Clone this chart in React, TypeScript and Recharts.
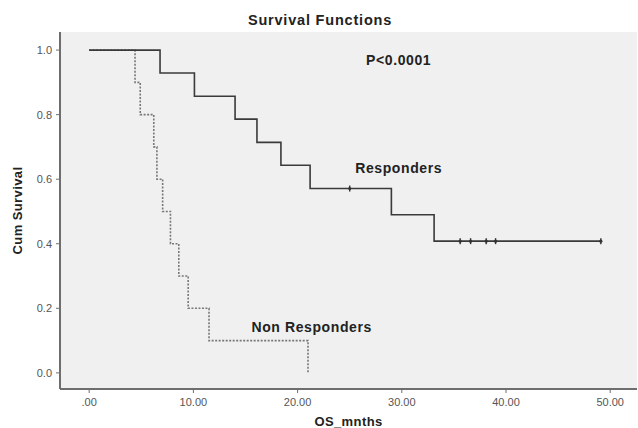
import { ComposedChart, Line, Scatter, XAxis, YAxis, CartesianGrid, ReferenceDot } from 'recharts';

// Kaplan-Meier estimates
const respTime = [0, 6.8, 10.1, 14.0, 16.1, 18.4, 21.2, 29.0, 33.1, 49.1];
const respSurv = [1, 0.929, 0.857, 0.786, 0.714, 0.643, 0.571, 0.49, 0.408, 0.408];
const respCensorTime = [25.0, 35.6, 36.6, 38.1, 39.0, 49.1];
const respCensorSurv = [0.571, 0.408, 0.408, 0.408, 0.408, 0.408];
const nonTime = [0, 4.4, 4.9, 6.2, 6.5, 7.05, 7.8, 8.6, 9.5, 11.5, 21.0];
const nonSurv = [1, 0.9, 0.8, 0.7, 0.6, 0.5, 0.4, 0.3, 0.2, 0.1, 0];

const xTicks = [0, 10, 20, 30, 40, 50];
const yTicks = [0, 0.2, 0.4, 0.6, 0.8, 1.0];

const respData = respTime.map((t, i) => ({ t, s: respSurv[i] }));
const nonData = nonTime.map((t, i) => ({ t, s: nonSurv[i] }));
const censorData = respCensorTime.map((t, i) => ({ t, s: respCensorSurv[i] }));

const xDomain = [-2.8, 52.57];
const yDomain = [-0.05, 1.056];
const font = '"Liberation Sans", Arial, sans-serif';
const axisColor = '#6e6e6e';

const CensorMark = (props: any) => {
  const { cx, cy } = props;
  return (
    <g>
      <line x1={cx} x2={cx} y1={cy - 3} y2={cy + 3} stroke="#333" strokeWidth={1.4} />
      <circle cx={cx} cy={cy} r={1.6} fill="#333" />
    </g>
  );
};

const annot = (value: string) => ({
  value,
  position: 'center' as const,
  fill: '#222',
  fontSize: 14,
  fontWeight: 'bold',
  fontFamily: font,
  letterSpacing: 0.6,
});

export default function App() {
  return (
    <div style={{ position: 'absolute', left: 0, top: 0, width: 638, height: 428, background: '#fff' }}>
      <ComposedChart width={638} height={428} margin={{ top: 32, right: 1, bottom: 0, left: 0 }} style={{ fontFamily: font }}>
        <CartesianGrid fill="#f0f0f0" horizontal={false} vertical={false} />
        <XAxis
          dataKey="t"
          type="number"
          domain={xDomain}
          ticks={xTicks}
          allowDataOverflow
          height={39}
          tickSize={4}
          tickMargin={5}
          tickFormatter={(v: number) => (v === 0 ? '.00' : v.toFixed(2))}
          tick={{ fill: '#555', fontSize: 11, fontFamily: font }}
          axisLine={{ stroke: axisColor, strokeWidth: 2 }}
          tickLine={{ stroke: axisColor }}
          label={{ value: 'OS_mnths', position: 'insideBottom', offset: 2, fill: '#222', fontSize: 13, fontWeight: 'bold', fontFamily: font, letterSpacing: 0.4 }}
        />
        <XAxis xAxisId="top" orientation="top" type="number" domain={xDomain} height={0} tick={false} tickLine={false} axisLine={{ stroke: axisColor, strokeWidth: 2 }} />
        <YAxis
          dataKey="s"
          type="number"
          domain={yDomain}
          ticks={yTicks}
          allowDataOverflow
          width={60}
          tickSize={4}
          tickMargin={4}
          tickFormatter={(v: number) => v.toFixed(1)}
          tick={{ fill: '#555', fontSize: 11, fontFamily: font }}
          axisLine={{ stroke: axisColor, strokeWidth: 2 }}
          tickLine={{ stroke: axisColor }}
          label={{ value: 'Cum Survival', angle: -90, position: 'insideLeft', offset: 17, fill: '#222', fontSize: 13, fontWeight: 'bold', fontFamily: font, letterSpacing: 0.4, style: { textAnchor: 'middle' } }}
        />
        <YAxis yAxisId="right" orientation="right" type="number" domain={yDomain} width={0} tick={false} tickLine={false} axisLine={{ stroke: axisColor, strokeWidth: 2 }} />
        <Line data={nonData} dataKey="s" type="stepAfter" stroke="#777" strokeWidth={1.6} strokeDasharray="2 1.5" dot={false} isAnimationActive={false} />
        <Line data={respData} dataKey="s" type="stepAfter" stroke="#3a3a3a" strokeWidth={1.6} dot={false} isAnimationActive={false} />
        <Scatter data={censorData} dataKey="s" shape={CensorMark} isAnimationActive={false} />
        <ReferenceDot x={29.7} y={0.97} r={0} fill="none" stroke="none" label={annot('P<0.0001')} />
        <ReferenceDot x={29.7} y={0.636} r={0} fill="none" stroke="none" label={annot('Responders')} />
        <ReferenceDot x={21.35} y={0.141} r={0} fill="none" stroke="none" label={annot('Non Responders')} />
        <text x={320} y={25} textAnchor="middle" fill="#222" fontSize={14.5} fontWeight="bold" fontFamily={font} letterSpacing={0.8}>
          Survival Functions
        </text>
      </ComposedChart>
    </div>
  );
}
